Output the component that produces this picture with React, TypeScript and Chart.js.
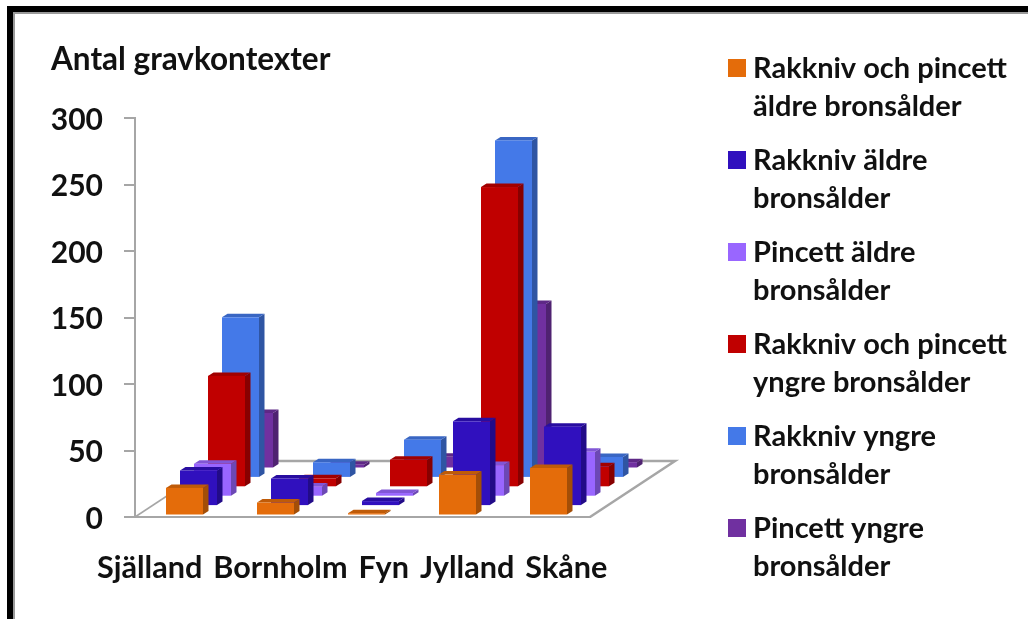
import React, { useEffect, useRef } from "react";
import { Chart, registerables } from "chart.js";

Chart.register(...registerables);

const regions = ["Själland", "Bornholm", "Fyn", "Jylland", "Skåne"];
const rakPinAldre = [20, 9, 1, 30, 35];
const rakAldre = [26, 20, 3, 63, 59];
const pinAldre = [24, 7, 2, 23, 33];
const rakPinYngre = [83, 6, 20, 225, 15];
const rakYngre = [120, 11, 28, 253, 15];
const pinYngre = [41, 2, 8, 123, 4];

const seriesNames = [
  ["Rakkniv och pincett", "äldre bronsålder"],
  ["Rakkniv äldre", "bronsålder"],
  ["Pincett äldre", "bronsålder"],
  ["Rakkniv och pincett", "yngre bronsålder"],
  ["Rakkniv yngre", "bronsålder"],
  ["Pincett yngre", "bronsålder"],
];
const seriesValues = [rakPinAldre, rakAldre, pinAldre, rakPinYngre, rakYngre, pinYngre];
const faceColors = ["#E46C0A", "#3010BE", "#9966FF", "#C00000", "#4479E8", "#7030A0"];
const sideColors = ["#A34E07", "#220B88", "#6C48B5", "#870000", "#2F55A3", "#4F2271"];
const topColors = ["#BF5B08", "#280DA0", "#8156D6", "#A10000", "#3966C3", "#5E2886"];

const FONT = "Lato, 'Open Sans', sans-serif";
const TEXT = "#111111";
const AXIS = "#A6A6A6";

const FLOOR_DX = 85;
const FLOOR_DY = 56;
const STEP_DX = 14;
const STEP_DY = 9.4;
const BAR_W = 37;
const SIDE_DX = 5.5;
const SIDE_DY = 3.5;

const chart3d = {
  id: "chart3d",
  beforeDraw(chart: any) {
    const { ctx, width, height } = chart;
    ctx.save();
    ctx.fillStyle = "#FFFFFF";
    ctx.fillRect(0, 0, width, height);
    ctx.fillStyle = "#000000";
    ctx.fillRect(7, 6, width - 7, 6);
    ctx.fillRect(7, 6, 6, height - 6);
    ctx.fillStyle = "#9A9A9A";
    ctx.fillRect(13, 12, width - 13, 2);
    ctx.fillRect(13, 12, 2, height - 12);
    ctx.restore();
  },
  beforeDatasetsDraw(chart: any) {
    const { ctx, scales } = chart;
    const x = scales.x;
    const y = scales.y;
    const y0 = y.getPixelForValue(0);
    const l = x.left;
    const r = x.right;

    ctx.save();
    ctx.strokeStyle = AXIS;
    ctx.lineWidth = 2.5;
    ctx.beginPath();
    ctx.moveTo(r, y0);
    ctx.lineTo(r + FLOOR_DX, y0 - FLOOR_DY);
    ctx.lineTo(l + FLOOR_DX, y0 - FLOOR_DY);
    ctx.stroke();
    ctx.lineWidth = 1.5;
    ctx.beginPath();
    ctx.moveTo(l, y0);
    ctx.lineTo(l + FLOOR_DX, y0 - FLOOR_DY);
    ctx.stroke();

    for (let s = seriesValues.length - 1; s >= 0; s--) {
      const ds = chart.data.datasets[s];
      ds.data.forEach((v: number, i: number) => {
        const left = x.getPixelForValue(i) - 14.5 + s * STEP_DX;
        const right = left + BAR_W;
        const shift = 2.5 + s * STEP_DY;
        const bottom = y0 - shift;
        const top = y.getPixelForValue(v) - shift;
        ctx.fillStyle = sideColors[s];
        ctx.beginPath();
        ctx.moveTo(right, top);
        ctx.lineTo(right + SIDE_DX, top - SIDE_DY);
        ctx.lineTo(right + SIDE_DX, bottom - SIDE_DY);
        ctx.lineTo(right, bottom);
        ctx.closePath();
        ctx.fill();
        ctx.fillStyle = topColors[s];
        ctx.beginPath();
        ctx.moveTo(left, top);
        ctx.lineTo(left + SIDE_DX, top - SIDE_DY);
        ctx.lineTo(right + SIDE_DX, top - SIDE_DY);
        ctx.lineTo(right, top);
        ctx.closePath();
        ctx.fill();
        ctx.fillStyle = ds.backgroundColor;
        ctx.fillRect(left, top, BAR_W, bottom - top);
      });
    }
    ctx.restore();
    return false;
  },
  afterDraw(chart: any) {
    const { ctx } = chart;
    ctx.save();
    ctx.fillStyle = TEXT;
    ctx.textBaseline = "alphabetic";
    ctx.textAlign = "left";

    ctx.font = `bold 30.6px ${FONT}`;
    let cx = 97;
    regions.forEach((name) => {
      ctx.fillText(name, cx, 578);
      cx += ctx.measureText(name).width + 11;
    });

    ctx.font = `bold 29px ${FONT}`;
    ctx.textBaseline = "middle";
    chart.data.datasets.forEach((ds: any, s: number) => {
      const yTop = 68 + s * 92;
      ctx.fillStyle = ds.backgroundColor;
      ctx.fillRect(728, yTop - 9, 18, 18);
      ctx.fillStyle = TEXT;
      seriesNames[s].forEach((line, k) => ctx.fillText(line, 753, yTop + 1 + k * 38));
    });
    ctx.restore();
  },
};

export default function App() {
  const ref = useRef<HTMLCanvasElement>(null);
  useEffect(() => {
    const chart = new Chart(ref.current as HTMLCanvasElement, {
      type: "bar",
      data: {
        labels: regions,
        datasets: seriesValues.map((data, s) => ({
          label: seriesNames[s].join(" "),
          data,
          backgroundColor: faceColors[s],
        })),
      },
      options: {
        animation: false,
        responsive: false,
        devicePixelRatio: 1,
        layout: { padding: { left: 51, right: 438, top: 0, bottom: 0 } },
        plugins: {
          legend: { display: false },
          tooltip: { enabled: false },
          title: {
            display: true,
            text: "Antal gravkontexter",
            align: "start",
            color: TEXT,
            font: { family: FONT, size: 31.5, weight: "bold", lineHeight: 1.2 },
            padding: { top: 41, bottom: 39.2 },
          },
        },
        scales: {
          x: {
            grid: { display: false },
            border: { color: AXIS, width: 2 },
            ticks: { display: false },
            afterFit: (s: any) => {
              s.height = 102;
            },
          },
          y: {
            min: 0,
            max: 300,
            grid: { drawOnChartArea: false, color: AXIS, tickLength: 11, tickColor: AXIS, lineWidth: 2 },
            border: { color: AXIS, width: 2 },
            ticks: {
              stepSize: 50,
              padding: 21,
              labelOffset: 2,
              color: TEXT,
              font: { family: FONT, size: 30, weight: "bold" },
            },
            afterFit: (s: any) => {
              s.width = 84;
            },
          },
        },
      } as any,
      plugins: [chart3d],
    });
    return () => chart.destroy();
  }, []);
  return (
    <div style={{ position: "fixed", left: 0, top: 0, width: 1028, height: 619 }}>
      <canvas ref={ref} width={1028} height={619} style={{ display: "block" }} />
    </div>
  );
}
